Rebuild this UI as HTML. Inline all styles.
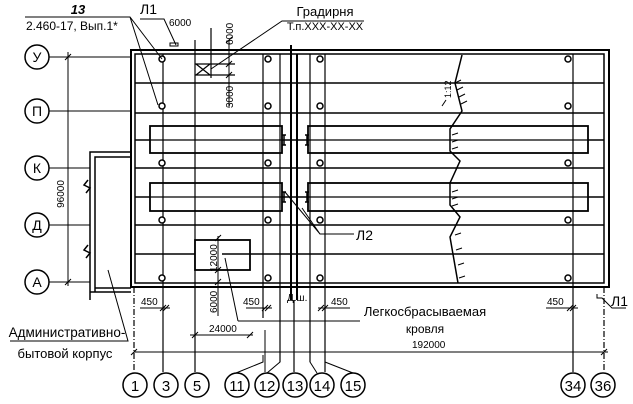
<!DOCTYPE html>
<html><head><meta charset="utf-8"><style>
html,body{margin:0;padding:0;background:#fff;}
svg{display:block}
text{font-family:"Liberation Sans",sans-serif;fill:#000}
</style></head><body>
<svg width="633" height="404" viewBox="0 0 633 404" xmlns="http://www.w3.org/2000/svg">
<rect width="633" height="404" fill="#fff"/>
<g stroke="#000" fill="none">
<rect x="131" y="50" width="478" height="237" stroke-width="2"/>
<rect x="135" y="54" width="469" height="229" stroke-width="1.5"/>
<g stroke-width="1.5">
<line x1="135" y1="83" x2="604" y2="83"/>
<line x1="135" y1="113" x2="604" y2="113"/>
<line x1="135" y1="168" x2="604" y2="168"/>
<line x1="135" y1="225" x2="604" y2="225"/>
<line x1="135" y1="254" x2="604" y2="254"/>
<line x1="135" y1="140" x2="604" y2="140"/>
<line x1="135" y1="197" x2="604" y2="197"/>
</g>
<g stroke-width="1.8" fill="#fff">
<rect x="150" y="126" width="132" height="27"/>
<rect x="308" y="126" width="280" height="27"/>
<rect x="150" y="183" width="132" height="28"/>
<rect x="308" y="183" width="280" height="28"/>
</g>
<g stroke-width="1.2">
<line x1="150" y1="140" x2="282" y2="140"/><line x1="308" y1="140" x2="588" y2="140"/>
<line x1="150" y1="197" x2="282" y2="197"/><line x1="308" y1="197" x2="588" y2="197"/>
</g>
<g stroke-width="1.2">
<line x1="163" y1="54" x2="163" y2="372"/>
<line x1="195" y1="40" x2="195" y2="372"/>
<line x1="263" y1="54" x2="263" y2="318"/>
<line x1="280" y1="54" x2="280" y2="362"/>
<line x1="310" y1="54" x2="310" y2="362"/>
<line x1="325" y1="54" x2="325" y2="372"/>
<line x1="573" y1="54" x2="573" y2="372"/>
<line x1="134" y1="287" x2="134" y2="372" stroke-dasharray="6,2,1,2"/>
<line x1="604" y1="287" x2="604" y2="372" stroke-dasharray="6,2,1,2"/>
<line x1="294" y1="300" x2="294" y2="372"/>
</g>
<g stroke-width="2">
<line x1="291" y1="45" x2="291" y2="300"/>
<line x1="297" y1="54" x2="297" y2="300"/>
</g>
<g stroke-width="1.5">
<path d="M282 135h4M284 135v10M282 145h4"/><path d="M305 135h4M307 135v10M305 145h4"/>
<path d="M282 192h4M284 192v10M282 202h4"/><path d="M305 192h4M307 192v10M305 202h4"/>
</g>
<g stroke-width="1.5">
<path d="M131 152H90V300"/>
<path d="M131 157H95V292"/>
<path d="M95 288H131"/><path d="M90 292H131"/>
<path d="M88 180l-4 5 6 3-4 5"/><path d="M88 245l-4 5 6 3-4 5"/>
</g>
<rect x="195" y="240" width="55" height="30" stroke-width="1.8" fill="#fff"/>
<line x1="222" y1="254" x2="250" y2="254" stroke-width="1.5"/>
<g stroke-width="1.2">
<path d="M195 64h16M195 75h16M196 64l14 11M210 64l-14 11"/>
<path d="M211 64h24M211 75h24"/>
<line x1="211" y1="28" x2="211" y2="78"/>
</g>
<path d="M462 55l-7 28 7 28-12 18 0 22 10 10-10 22 0 22 10 12-10 20 8 46" stroke-width="1.5"/>
<path d="M455 83l6-3M457 90l6-3M459 97l6-3M461 104l6-3M452 135l6-2M452 142l6-2M452 149l6-2M452 192l6-2M452 199l6-2M452 206l6-2M455 235l6-2M456 250l6-2M458 265l6-2M459 278l6-2" stroke-width="1"/>
<g stroke-width="1.5" fill="#fff">
<circle cx="162" cy="59" r="3"/><circle cx="268" cy="59" r="3"/><circle cx="320" cy="59" r="3"/><circle cx="568" cy="59" r="3"/>
<circle cx="162" cy="106" r="3"/><circle cx="268" cy="106" r="3"/><circle cx="320" cy="106" r="3"/><circle cx="568" cy="106" r="3"/>
<circle cx="162" cy="163" r="3"/><circle cx="268" cy="163" r="3"/><circle cx="320" cy="163" r="3"/><circle cx="568" cy="163" r="3"/>
<circle cx="162" cy="220" r="3"/><circle cx="268" cy="220" r="3"/><circle cx="320" cy="220" r="3"/><circle cx="568" cy="220" r="3"/>
<circle cx="162" cy="278" r="3"/><circle cx="268" cy="278" r="3"/><circle cx="320" cy="278" r="3"/><circle cx="568" cy="278" r="3"/>
</g>
<g stroke-width="1">
<line x1="49" y1="57" x2="131" y2="57"/><line x1="49" y1="111" x2="131" y2="111"/>
<line x1="49" y1="168" x2="90" y2="168"/><line x1="49" y1="225" x2="90" y2="225"/>
<line x1="49" y1="282" x2="90" y2="282"/>
<line x1="68" y1="52" x2="68" y2="286"/>
<path d="M65 60l6-6M65 285l6-6"/>
</g>
<g stroke-width="1.5" fill="#fff">
<circle cx="37" cy="57" r="12"/><circle cx="37" cy="111" r="12"/><circle cx="37" cy="168" r="12"/><circle cx="37" cy="225" r="12"/><circle cx="37" cy="282" r="12"/>
</g>
<g stroke-width="1">
<line x1="134" y1="352" x2="608" y2="352"/>
<path d="M131 355l6-6M601 355l6-6"/>
<line x1="190" y1="335" x2="253" y2="335"/>
<path d="M192 338l6-6M247 338l6-6"/>
<line x1="140" y1="308" x2="170" y2="308"/><path d="M160 311l6-6M163 311l6-6"/>
<line x1="246" y1="308" x2="272" y2="308"/><path d="M262 311l6-6M265 311l6-6"/>
<line x1="318" y1="308" x2="350" y2="308"/><path d="M318 311l6-6M322 311l6-6"/>
<line x1="546" y1="308" x2="578" y2="308"/><path d="M567 311l6-6M570 311l6-6"/>
<line x1="218" y1="236" x2="218" y2="316"/>
<path d="M215 241l6-6M215 285l6-6M215 273l6-6"/>
<line x1="238" y1="321" x2="360" y2="321"/>
<path d="M225 258L238 321"/>
<line x1="229" y1="40" x2="229" y2="108"/>
<path d="M226 43l6-6M226 67l6-6M226 78l6-6"/>
<line x1="265" y1="330" x2="265" y2="372"/>
<path d="M263 355v7l-27 11M280 355v7l-13 11M310 355v7l7 11M325 355v7l28 11"/>
</g>
<g stroke-width="1.5" fill="#fff">
<circle cx="135" cy="385" r="12"/><circle cx="166" cy="385" r="12"/><circle cx="197" cy="385" r="12"/>
<circle cx="237" cy="385" r="12"/><circle cx="267" cy="385" r="12"/><circle cx="295" cy="385" r="12"/>
<circle cx="322" cy="385" r="12"/><circle cx="353" cy="385" r="12"/><circle cx="573" cy="385" r="12"/><circle cx="603" cy="385" r="12"/>
</g>
<g stroke-width="1">
<path d="M25 17H130l32 42M130 17l28 88"/>
<path d="M140 19h24l12 26"/><path d="M170 43h8v3h-8z"/>
<path d="M364 21H282L211 69"/>
<path d="M354 234H320L285 192M320 234L302 208"/>
<path d="M626 308H612l-10-10h-5v-4"/>
<path d="M10 341H128L108 270"/>
<path d="M446 100l-4 6"/>
</g>
</g>
<g font-size="12">
<text x="37" y="62" text-anchor="middle" font-size="14">У</text>
<text x="37" y="116" text-anchor="middle" font-size="14">П</text>
<text x="37" y="173" text-anchor="middle" font-size="14">К</text>
<text x="37" y="230" text-anchor="middle" font-size="14">Д</text>
<text x="37" y="287" text-anchor="middle" font-size="14">А</text>
<g font-size="15" text-anchor="middle">
<text x="135" y="391">1</text><text x="166" y="391">3</text><text x="197" y="391">5</text>
<text x="237" y="391">11</text><text x="267" y="391">12</text><text x="295" y="391">13</text>
<text x="322" y="391">14</text><text x="353" y="391">15</text><text x="573" y="391">34</text><text x="603" y="391">36</text>
</g>
<text x="78" y="14" text-anchor="middle" font-style="italic" font-weight="bold" font-size="13">13</text>
<text x="26" y="30" font-size="12">2.460-17, Вып.1*</text>
<text x="140" y="14" font-size="14">Л1</text>
<text x="169" y="26" font-size="10">6000</text>
<text x="325" y="16" text-anchor="middle" font-size="13">Градирня</text>
<text x="325" y="30" text-anchor="middle" font-size="11">Т.п.XXX-XX-XX</text>
<text x="356" y="240" font-size="14">Л2</text>
<text x="611" y="306" font-size="14">Л1</text>
<text x="287" y="301" font-size="10">Д.ш.</text>
<text x="141" y="305" font-size="10">450</text>
<text x="243" y="305" font-size="10">450</text>
<text x="331" y="305" font-size="10">450</text>
<text x="547" y="305" font-size="10">450</text>
<text x="209" y="332" font-size="10">24000</text>
<text x="412" y="348" font-size="10">192000</text>
<text x="425" y="316" text-anchor="middle" font-size="13">Легкосбрасываемая</text>
<text x="425" y="333" text-anchor="middle" font-size="12">кровля</text>
<text x="67" y="337" text-anchor="middle" font-size="13.5">Административно-</text>
<text x="65" y="358" text-anchor="middle" font-size="13">бытовой корпус</text>
<text transform="translate(233,45) rotate(-90)" font-size="10">6000</text>
<text transform="translate(233,108) rotate(-90)" font-size="10">3000</text>
<text transform="translate(217,272) rotate(-90)" font-size="10">12000</text>
<text transform="translate(217,313) rotate(-90)" font-size="10">6000</text>
<text transform="translate(64,194) rotate(-90)" font-size="10" text-anchor="middle">96000</text>
<text transform="translate(451,98) rotate(-90)" font-size="9">1:12</text>
</g>
</svg>
</body></html>
